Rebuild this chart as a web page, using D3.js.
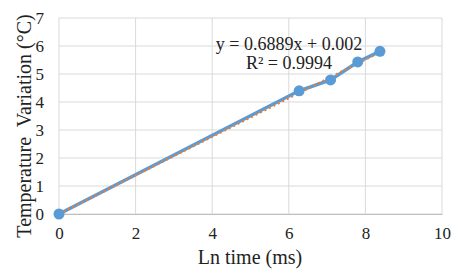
<!DOCTYPE html>
<html><head><meta charset="utf-8">
<script src="https://cdn.jsdelivr.net/npm/d3@7"></script>
<style>body{margin:0;background:#fff}svg{display:block}text{font-family:"Liberation Serif","Times New Roman",serif;fill:#222}</style>
</head><body><svg id="c" width="458" height="273"></svg>
<script>
const xValues = [0, 6.27, 7.09, 7.80, 8.38];
const yValues = [0, 4.40, 4.79, 5.43, 5.81];
const xTicks = [0, 2, 4, 6, 8, 10];
const yTicks = [0, 1, 2, 3, 4, 5, 6, 7];
const slope = 0.6889, intercept = 0.002;
const eqLabel = "y = 0.6889x + 0.002";
const r2Label = "R² = 0.9994";
const xTitle = "Ln time (ms)";
const yTitle = "Temperature\u00a0 Variation (°C)";

const FF = "'Liberation Serif', 'Times New Roman', serif";
const svg = d3.select("#c");
const x = d3.scaleLinear().domain([0, 10]).range([59, 442]);
const y = d3.scaleLinear().domain([0, 7]).range([214, 18]);

svg.append("g").selectAll("line").data(yTicks).join("line")
  .attr("x1", x(0)).attr("x2", x(10)).attr("y1", d => y(d)).attr("y2", d => y(d))
  .attr("stroke", "#d9d9d9").attr("stroke-width", 1);
svg.append("g").selectAll("line").data(xTicks).join("line")
  .attr("y1", y(0)).attr("y2", y(7)).attr("x1", d => x(d)).attr("x2", d => x(d))
  .attr("stroke", "#d9d9d9").attr("stroke-width", 1);

const xa = svg.append("g").attr("transform", `translate(0,${y(0)})`)
  .call(d3.axisBottom(x).tickValues(xTicks).tickSize(0).tickPadding(13).tickFormat(d3.format("d")))
  .attr("font-family", FF).attr("font-size", 17);
xa.select(".domain").attr("stroke", "#bfbfbf");
xa.selectAll("text").attr("fill", "#222");

const ya = svg.append("g").attr("transform", `translate(${x(0)},0)`)
  .call(d3.axisLeft(y).tickValues(yTicks).tickSize(0).tickPadding(15).tickFormat(d3.format("d")))
  .attr("font-family", FF).attr("font-size", 17);
ya.select(".domain").remove();
ya.selectAll("text").attr("fill", "#222");

const pts = xValues.map((v, i) => [v, yValues[i]]);
svg.append("path").datum(pts)
  .attr("d", d3.line().x(d => x(d[0])).y(d => y(d[1])))
  .attr("fill", "none").attr("stroke", "#5b9bd5").attr("stroke-width", 3.5);
const xmax = d3.max(xValues);
svg.append("line")
  .attr("x1", x(0)).attr("y1", y(intercept)).attr("x2", x(xmax)).attr("y2", y(slope * xmax + intercept))
  .attr("stroke", "#ed7d31").attr("stroke-width", 2.2).attr("stroke-dasharray", "2,3");
svg.append("g").selectAll("circle").data(pts).join("circle")
  .attr("cx", d => x(d[0])).attr("cy", d => y(d[1])).attr("r", 5.5).attr("fill", "#5b9bd5");

svg.append("text").attr("x", 289).attr("y", 50).attr("text-anchor", "middle").attr("font-size", 18).text(eqLabel);
svg.append("text").attr("x", 289).attr("y", 69).attr("text-anchor", "middle").attr("font-size", 18).text(r2Label);
svg.append("text").attr("x", 250).attr("y", 264).attr("text-anchor", "middle").attr("font-size", 20).text(xTitle);
svg.append("text").attr("transform", "translate(31,126) rotate(-90)").attr("text-anchor", "middle").attr("font-size", 20).text(yTitle);
</script></body></html>
